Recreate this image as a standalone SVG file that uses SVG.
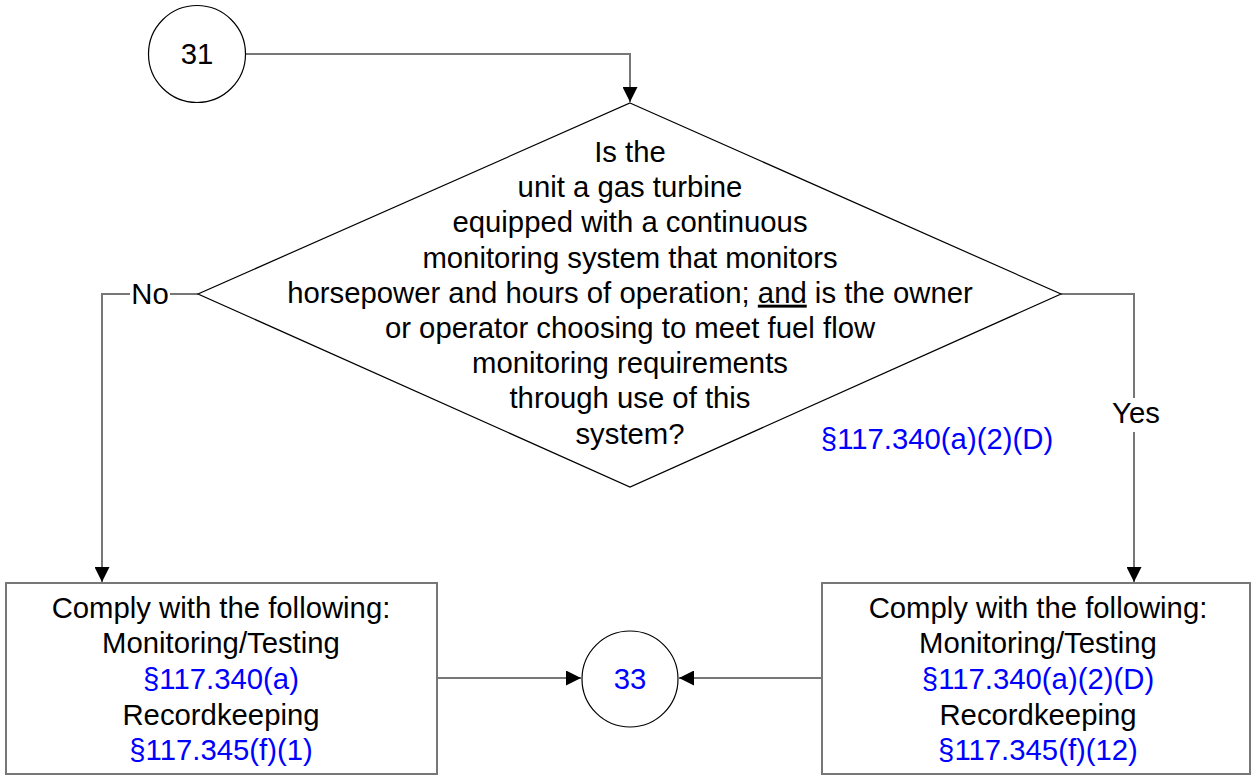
<svg xmlns="http://www.w3.org/2000/svg" width="1251" height="776" viewBox="0 0 1251 776">
<defs>
<marker id="arr" markerUnits="userSpaceOnUse" markerWidth="15" markerHeight="15" refX="15" refY="7.5" orient="auto">
<path d="M0,0 L15,7.5 L0,15 z" fill="#000"/>
</marker>
<style>
text{font-family:"Liberation Sans",Arial,sans-serif;font-size:29.3px;fill:#000;text-anchor:middle}
.ref{fill:#0000ff}
.conn{fill:none;stroke:#777;stroke-width:2}
.shape{fill:#fff;stroke:#000;stroke-width:1.2}
.box{fill:#fff;stroke:#777;stroke-width:2}
</style>
</defs>
<rect width="1251" height="776" fill="#fff"/>
<g id="connectors">
<path class="conn" d="M246,54 H630 V102" marker-end="url(#arr)"/>
<path class="conn" d="M198,294 H102 V582" marker-end="url(#arr)"/>
<path class="conn" d="M1061,294 H1134 V582" marker-end="url(#arr)"/>
<path class="conn" d="M437,678 H581" marker-end="url(#arr)"/>
<path class="conn" d="M822,678 H679" marker-end="url(#arr)"/>
<rect x="130" y="280" width="40" height="28" fill="#fff"/>
<text x="150" y="304">No</text>
<rect x="1110" y="398" width="52" height="34" fill="#fff"/>
<text x="1136" y="423">Yes</text>
</g>
<g id="start31">
<circle class="shape" cx="197" cy="54" r="48.5"/>
<text x="197" y="64">31</text>
</g>
<g id="decision">
<polygon class="shape" points="630,103 1061,294 630,487 198,294"/>
<text x="630" y="162">Is the</text>
<text x="630" y="197">unit a gas turbine</text>
<text x="630" y="232.3">equipped with a continuous</text>
<text x="630" y="267.5">monitoring system that monitors</text>
<text x="630" y="302.7">horsepower and hours of operation; <tspan text-decoration="underline">and</tspan> is the owner</text>
<text x="630" y="337.9">or operator choosing to meet fuel flow</text>
<text x="630" y="373.1">monitoring requirements</text>
<text x="630" y="408.3">through use of this</text>
<text x="630" y="443.5">system?</text>
<text class="ref" x="937" y="449">§117.340(a)(2)(D)</text>
</g>
<g id="boxNo">
<rect class="box" x="6" y="583" width="431" height="191"/>
<text x="221" y="617.5">Comply with the following:</text>
<text x="221" y="653">Monitoring/Testing</text>
<text class="ref" x="221" y="689">§117.340(a)</text>
<text x="221" y="724.5">Recordkeeping</text>
<text class="ref" x="221" y="760">§117.345(f)(1)</text>
</g>
<g id="boxYes">
<rect class="box" x="822" y="583" width="428" height="191"/>
<text x="1038" y="617.5">Comply with the following:</text>
<text x="1038" y="653">Monitoring/Testing</text>
<text class="ref" x="1038" y="689">§117.340(a)(2)(D)</text>
<text x="1038" y="724.5">Recordkeeping</text>
<text class="ref" x="1038" y="760">§117.345(f)(12)</text>
</g>
<g id="end33">
<circle class="shape" cx="630" cy="679" r="48"/>
<text class="ref" x="630" y="689">33</text>
</g>
</svg>
